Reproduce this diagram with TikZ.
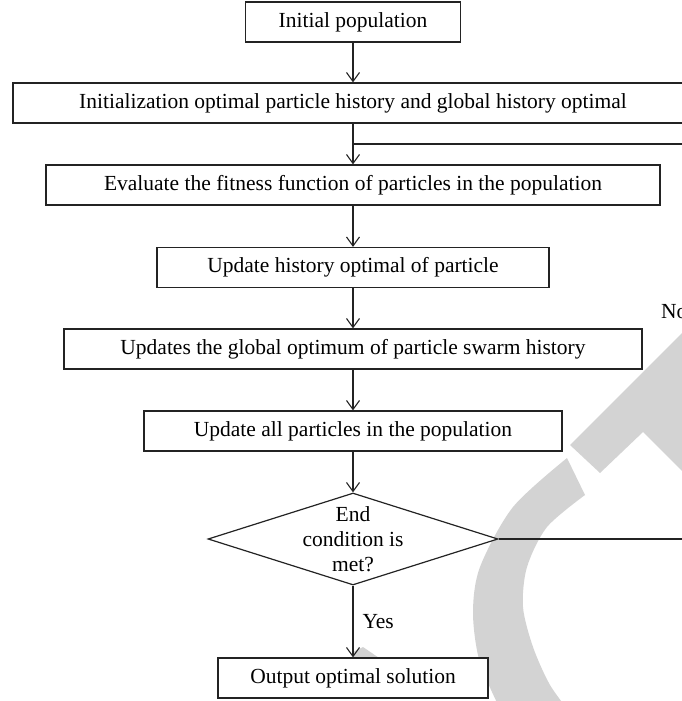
\documentclass[tikz,border=0pt]{standalone}
\usepackage{fontspec}
\setmainfont{Liberation Serif}
\usetikzlibrary{arrows.meta,shapes.geometric}
\definecolor{wm}{RGB}{211,211,211}
\definecolor{ink}{RGB}{35,35,35}
\begin{document}
\begin{tikzpicture}[x=1pt,y=-1pt,
  font=\fontsize{21.5}{25}\selectfont,
  box/.style={draw=ink, fill=white, line width=1.2pt, minimum height=40pt, inner sep=0pt, text=black},
  conn/.style={draw=ink, line width=1.1pt},
  arr/.style={conn, -{Straight Barb[length=9pt,width=13pt]}},
  lbl/.style={inner sep=0pt, text=black},
]
\useasboundingbox (0,0) rectangle (682,701);
\clip (0,0) rectangle (682,701);
% watermark (background)
\fill[wm] plot[smooth] coordinates {(567,458) (513,507) (480,567) (473,613) (480,663) (503,715)}
  -- plot[smooth] coordinates {(572,715) (550,685) (533,647) (523,607) (527,567) (547,527) (585,495)} -- cycle;
\fill[wm] (570,445) -- (690,325) -- (690,479) -- (643,432) -- (600,473) -- cycle;
\fill[wm] (353,662) -- (353,652) -- (363,647) -- (385,662) -- cycle;
% nodes
\node[box, minimum width=215pt] (ini) at (353,22) {Initial population};
\node[box, minimum width=680pt] (init) at (353,103) {Initialization optimal particle history and global history optimal};
\node[box, minimum width=614pt] (eval) at (353,185) {Evaluate the fitness function of particles in the population};
\node[box, minimum width=392pt] (hist) at (353,267.5) {Update history optimal of particle};
\node[box, minimum width=578pt] (glob) at (353,349) {Updates the global optimum of particle swarm history};
\node[box, minimum width=418pt] (all) at (353,431) {Update all particles in the population};
\node[diamond, draw=ink, fill=white, line width=1.2pt, minimum width=290pt, minimum height=92pt, inner sep=0pt] (dec) at (353,539) {};
\node[lbl, align=center] (dectext) at (dec.center) {End\\condition is\\met?};
\node[box, minimum width=270pt] (out) at (353,678) {Output optimal solution};
\node[lbl, anchor=west] (no) at (661,312) {No};
\coordinate (j) at (353,144);
\coordinate (loopR) at (700,539);
% connectors
\draw[arr] (ini) -- (init);
\draw[arr] (init) -- (eval);
\draw[arr] (eval) -- (hist);
\draw[arr] (hist) -- (glob);
\draw[arr] (glob) -- (all);
\draw[arr] (all) -- (dec);
\draw[arr] (dec) -- node[lbl, anchor=west, xshift=9pt] (yes) {Yes} (out);
\draw[conn] (dec.east) -- (loopR) |- (j);
\end{tikzpicture}
\end{document}
